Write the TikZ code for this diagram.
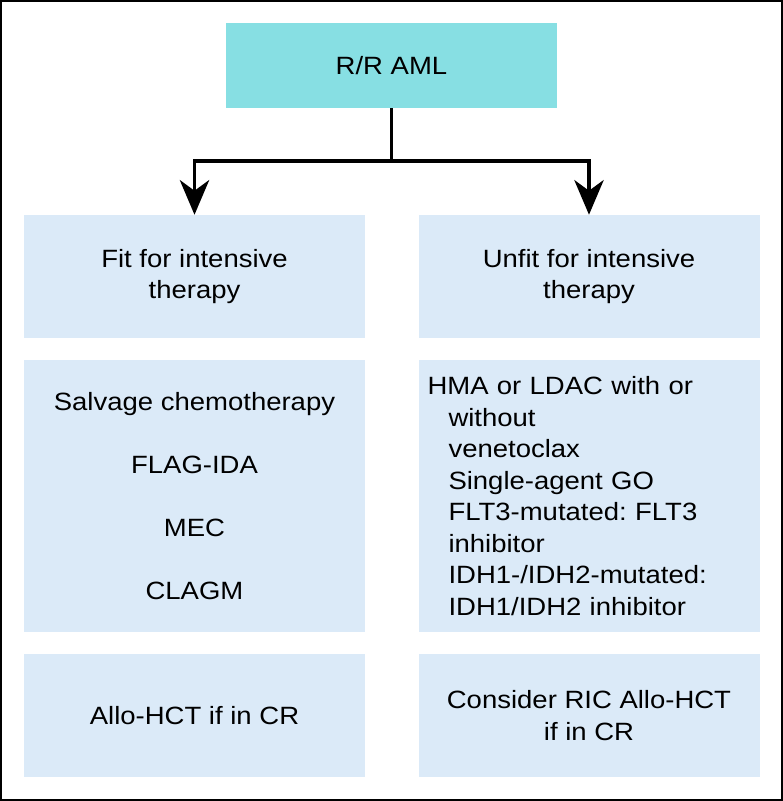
\documentclass[tikz,border=0pt]{standalone}
\usepackage{fontspec}
\setmainfont{Liberation Sans}[FakeStretch=1.1]
\usetikzlibrary{arrows.meta}
\definecolor{headcyan}{RGB}{135,223,227}
\definecolor{panelblue}{RGB}{219,234,248}
\frenchspacing
\begin{document}
\begin{tikzpicture}[x=0.75pt, y=-0.75pt,
        every node/.style={font=\fontsize{18.75}{23.6}\selectfont},
        panel/.style={fill=panelblue, inner xsep=6.75pt, inner ysep=0pt,
            minimum width=255.75pt, align=center},
        link/.style={line width=2.6pt,
            -{Stealth[length=26pt, width=22pt, inset=8pt]}}]
        \useasboundingbox (0,0) rectangle (783,801);
        \draw[line width=1.5pt] (1,1) rectangle (782,800);

        % top
        \node[fill=headcyan, minimum width=248.25pt, minimum height=63.75pt]
            (aml) at (391.5,65.5) {R/R AML};

        % row 1
        \node[panel, minimum height=92.25pt] (fit) at (194.5,276.5)
            {Fit for intensive\\therapy};
        \node[panel, minimum height=92.25pt] (unfit) at (589,276.5)
            {Unfit for intensive\\therapy};

        % row 2
        \node[panel, minimum height=204pt] (salvage) at (194.5,496)
            {Salvage chemotherapy\\[23.6pt]FLAG-IDA\\[23.6pt]MEC\\[23.6pt]CLAGM};
        \node[panel, minimum height=204pt, text width=242.25pt, align=left]
            (lowint) at (589,496)
            {HMA or LDAC with or\\
             \hspace*{15.75pt}without\\
             \hspace*{15.75pt}venetoclax\\
             \hspace*{15.75pt}Single-agent GO\\
             \hspace*{15.75pt}FLT3-mutated: FLT3\\
             \hspace*{15.75pt}inhibitor\\
             \hspace*{15.75pt}IDH1-/IDH2-mutated:\\
             \hspace*{15.75pt}IDH1/IDH2 inhibitor};

        % row 3
        \node[panel, minimum height=92.25pt] (allo) at (194.5,715.5)
            {Allo-HCT if in CR};
        \node[panel, minimum height=92.25pt] (ric) at (589,715.5)
            {Consider RIC Allo-HCT\\if in CR};

        \coordinate (split) at (391.5,161);
        \draw[link] (aml.south) -- (split) -| (fit.north);
        \draw[link] (aml.south) -- (split) -| (unfit.north);
    \end{tikzpicture}
\end{document}
